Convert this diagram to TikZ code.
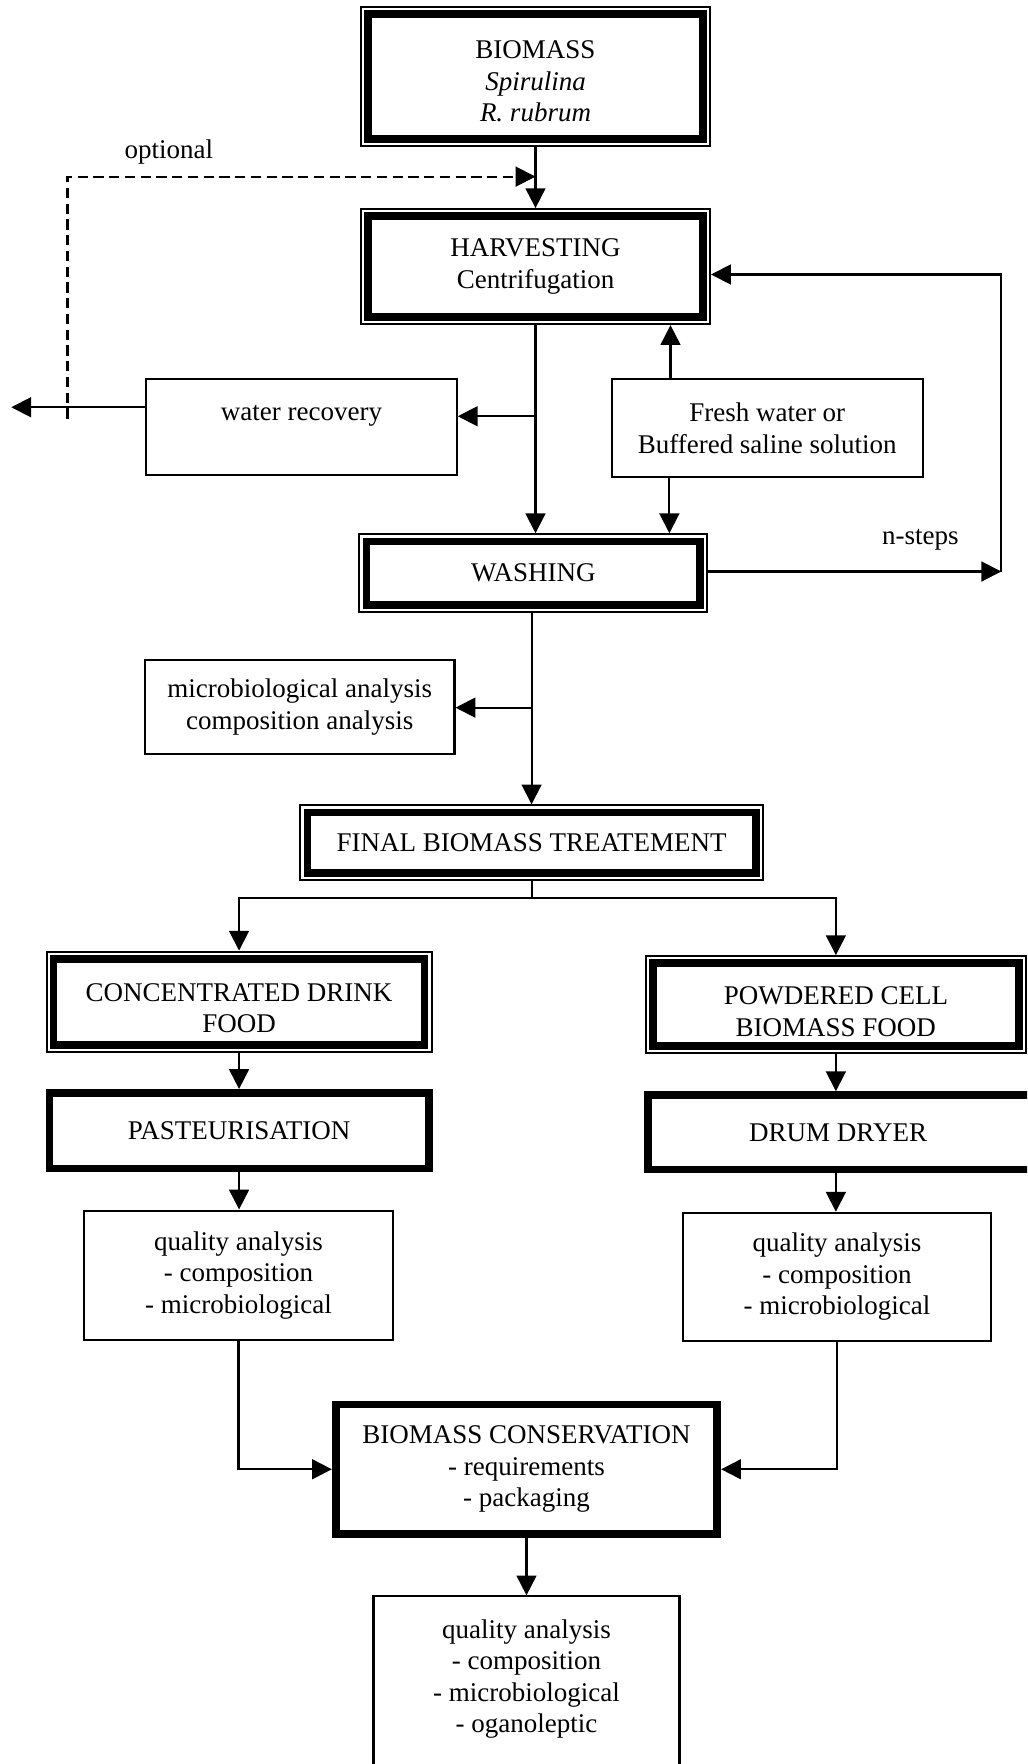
\documentclass[tikz,border=0pt]{standalone}
\usepackage{fontspec}
\setmainfont{Liberation Serif}
\usetikzlibrary{arrows.meta}
\begin{document}
\begin{tikzpicture}[x=0.5pt,y=-0.5pt,
  font=\fontsize{12pt}{14pt}\selectfont,
  every node/.style={align=center, inner sep=0pt},
  thinbox/.style={draw, line width=0.9pt, rectangle},
  thickbox/.style={draw, line width=3.4pt, rectangle},
  dblbox/.style={draw, line width=3.4pt, rectangle, outer sep=3.6pt},
  sz/.style 2 args={minimum width=#1*0.5pt, minimum height=#2*0.5pt},
  conn/.style={line width=0.9pt},
  tip/.style={-{Triangle[length=8.8pt,width=8.8pt]}},
  arr/.style={conn, tip},
  optline/.style={conn, dash pattern=on 4.5pt off 2.5pt, tip},
]
\useasboundingbox (0,0) rectangle (913,1568);
\fill[white] (0,0) rectangle (913,1568);
\clip (0,0) rectangle (913,1568);

% main chain
\node[dblbox, sz={297.6}{111.6}] (bio) at (476,68) {\rule{0pt}{12.5pt}BIOMASS\\\textit{Spirulina}\\\textit{R. rubrum}};
\node[dblbox, sz={297.6}{89.6}] (harv) at (476,237) {HARVESTING\\Centrifugation};
\node[dblbox, sz={296.6}{56.6}] (wash) at (474,509.5) {WASHING};
\node[dblbox, sz={398.6}{53.6}] (fin) at (472.5,749) {FINAL BIOMASS TREATEMENT};
\node[dblbox, sz={329.6}{76.6}] (conc) at (212.5,890.5) {\rule{0pt}{13.5pt}CONCENTRATED DRINK\\FOOD};
\node[dblbox, sz={325.6}{73.6}] (pow) at (743,893) {\rule{0pt}{14pt}POWDERED CELL\\BIOMASS FOOD};
\node[thickbox, sz={337.2}{67.2}] (past) at (212.5,1005) {PASTEURISATION};
\node[thickbox, sz={346}{66.2}] (dd) at (749,1006.5) {\hspace*{-4pt}DRUM DRYER};
\node[thickbox, sz={339.2}{115.2}] (cons) at (468,1306) {BIOMASS CONSERVATION\\- requirements\\- packaging};

% side boxes
\node[thinbox, sz={276}{85}] (wr) at (268,379.5) {water recovery\\[-1.5pt]\mbox{}};
\node[thinbox, sz={276}{87}] (fw) at (682,380.5) {Fresh water or\\Buffered saline solution};
\node[thinbox, sz={275}{83}] (an) at (266.5,628.5) {microbiological analysis\\composition analysis};
\node[thinbox, sz={275}{115}] (qal) at (212,1133.5) {quality analysis\\- composition\\- microbiological};
\node[thinbox, sz={274}{114}] (qar) at (744,1135) {quality analysis\\- composition\\- microbiological};
\node[thinbox, sz={272}{180}] (qaf) at (468,1509) {quality analysis\\- composition\\- microbiological\\- oganoleptic\\[5pt]\mbox{}};

% thin outer frame of the double boxes
\foreach \n in {bio,harv,wash,fin,conc,pow}
  \draw[line width=0.9pt] ([shift={(0.45pt,-0.45pt)}]\n.north west) rectangle ([shift={(-0.45pt,0.45pt)}]\n.south east);

% labels
\node (optl) at (150,135) {optional};
\node (nsl) at (818,480) {n-steps};

% connectors
\draw[arr] (bio.south) -- (harv.north);

\coordinate (optEnd) at (60,372);
\coordinate (optJoin) at (476,157);
\draw[optline] (optEnd) |- (optJoin);

\draw[arr] (harv.south) -- (harv.south |- wash.north);
\coordinate (wrj) at (476,370);
\draw[arr] (wrj) -- (wrj -| wr.east);
\coordinate (outL) at (10,362);
\draw[arr] (wr.west |- outL) -- (outL);

\coordinate (fwu) at (596,0);
\draw[arr] (fw.north -| fwu) -- (harv.south -| fwu);
\coordinate (fwd) at (595,0);
\draw[arr] (fw.south -| fwd) -- (wash.north -| fwd);

\coordinate (nsB) at (890,508);
\coordinate (nsT) at (890,244);
\draw[arr] (wash.east |- nsB) -- (nsB);
\draw[arr] (nsB) -- (nsT) -- (harv.east |- nsT);

\coordinate (anj) at (473,629);
\draw[arr] (wash.south -| fin.north) -- (fin.north);
\draw[arr] (anj) -- (an.east |- anj);

\coordinate (sp) at (472.5,798);
\draw[conn] (fin.south) -- (sp);
\draw[arr] (sp) -| (conc.north);
\draw[arr] (sp) -| (pow.north);

\draw[arr] (conc.south) -- (past.north);
\draw[arr] (past.south) -- (past.south |- qal.north);
\draw[arr] (qal.south) |- (cons.west);

\draw[arr] (pow.south) -- (pow.south |- dd.north);
\draw[arr] (pow.south |- dd.south) -- (pow.south |- qar.north);
\draw[arr] (qar.south) |- (cons.east);

\draw[arr] (cons.south -| qaf.north) -- (qaf.north);
\end{tikzpicture}
\end{document}
